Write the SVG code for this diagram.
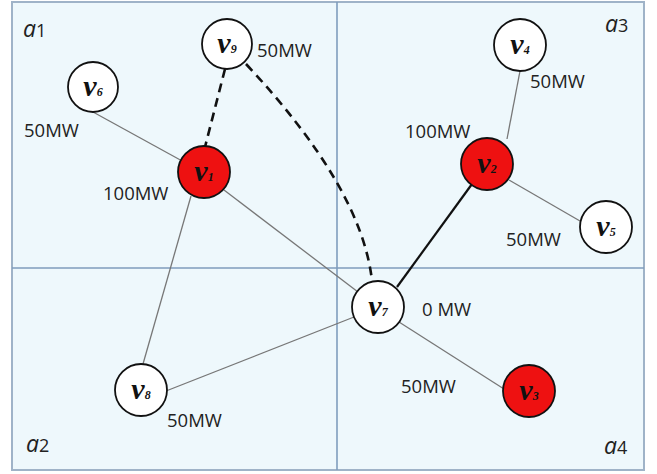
<svg xmlns="http://www.w3.org/2000/svg" width="657" height="474" viewBox="0 0 657 474">
<style>
.bg{fill:#eef8fc;stroke:#9fb3c8;stroke-width:2}
.div{stroke:#7f9dbd;stroke-width:1.6;fill:none}
.n{stroke:#111;stroke-width:1.8;fill:#fff}
.r{fill:#ee1111}
.thin{stroke:#777;stroke-width:1.3;fill:none}
.thick{stroke:#111;stroke-width:2.2;fill:none}
.dash{stroke:#111;stroke-width:2.6;fill:none;stroke-dasharray:9 6}
.lbl{font-family:"Open Sans","Liberation Sans",sans-serif;font-size:18.5px;fill:#222}
.area{font-family:"Open Sans","Liberation Sans",sans-serif;fill:#222}
.v{font-family:"Liberation Serif","DejaVu Serif",serif;font-style:italic;font-weight:bold;font-size:30px;fill:#111;text-anchor:middle}
.sub{font-size:12px}
</style>
<rect class="bg" x="12" y="2" width="632" height="468"/>
<line class="div" x1="337" y1="2" x2="337" y2="470"/>
<line class="div" x1="12" y1="268" x2="644" y2="268"/>
<g id="connectors">
<line class="thin" x1="93" y1="112" x2="184" y2="162"/>
<line class="thin" x1="191" y1="196" x2="143" y2="364"/>
<line class="thin" x1="224" y1="190" x2="358" y2="292"/>
<line class="thin" x1="166" y1="391" x2="354" y2="317"/>
<line class="thin" x1="520" y1="71" x2="507" y2="139"/>
<line class="thin" x1="509" y1="180" x2="580" y2="221"/>
<line class="thin" x1="399" y1="322" x2="504" y2="389"/>
<line class="thick" x1="472" y1="184" x2="397" y2="287"/>
<line class="dash" x1="225" y1="69" x2="205" y2="147"/>
<path class="dash" d="M246,64 Q362,188 372,281"/>
</g>
<g id="v9"><circle class="n" cx="227" cy="44" r="25"/><text class="v" x="227" y="53">v<tspan class="sub">9</tspan></text></g>
<g id="v6"><circle class="n" cx="93" cy="87" r="25"/><text class="v" x="93" y="96">v<tspan class="sub">6</tspan></text></g>
<g id="v1"><circle class="n r" cx="204" cy="172" r="26"/><text class="v" x="204" y="181">v<tspan class="sub">1</tspan></text></g>
<g id="v4"><circle class="n" cx="520" cy="45" r="26"/><text class="v" x="520" y="54">v<tspan class="sub">4</tspan></text></g>
<g id="v2"><circle class="n r" cx="487" cy="164" r="26"/><text class="v" x="487" y="173">v<tspan class="sub">2</tspan></text></g>
<g id="v5"><circle class="n" cx="606" cy="227" r="26"/><text class="v" x="606" y="236">v<tspan class="sub">5</tspan></text></g>
<g id="v7"><circle class="n" cx="378" cy="307" r="26"/><text class="v" x="378" y="316">v<tspan class="sub">7</tspan></text></g>
<g id="v8"><circle class="n" cx="141" cy="390" r="26"/><text class="v" x="141" y="399">v<tspan class="sub">8</tspan></text></g>
<g id="v3"><circle class="n r" cx="529" cy="391" r="26"/><text class="v" x="529" y="400">v<tspan class="sub">3</tspan></text></g>
<g id="labels">
<text class="lbl" x="257" y="57">50MW</text>
<text class="lbl" x="24" y="137">50MW</text>
<text class="lbl" x="103" y="200">100MW</text>
<text class="lbl" x="530" y="88">50MW</text>
<text class="lbl" x="405" y="138">100MW</text>
<text class="lbl" x="506" y="246">50MW</text>
<text class="lbl" x="422" y="316">0 MW</text>
<text class="lbl" x="401" y="393">50MW</text>
<text class="lbl" x="167" y="427">50MW</text>
<text class="area" x="23" y="37"><tspan font-style="italic" font-size="23">a</tspan><tspan font-size="18">1</tspan></text>
<text class="area" x="605" y="32"><tspan font-style="italic" font-size="23">a</tspan><tspan font-size="18">3</tspan></text>
<text class="area" x="26" y="452"><tspan font-style="italic" font-size="23">a</tspan><tspan font-size="18">2</tspan></text>
<text class="area" x="604" y="454"><tspan font-style="italic" font-size="23">a</tspan><tspan font-size="18">4</tspan></text>
</g>
</svg>
